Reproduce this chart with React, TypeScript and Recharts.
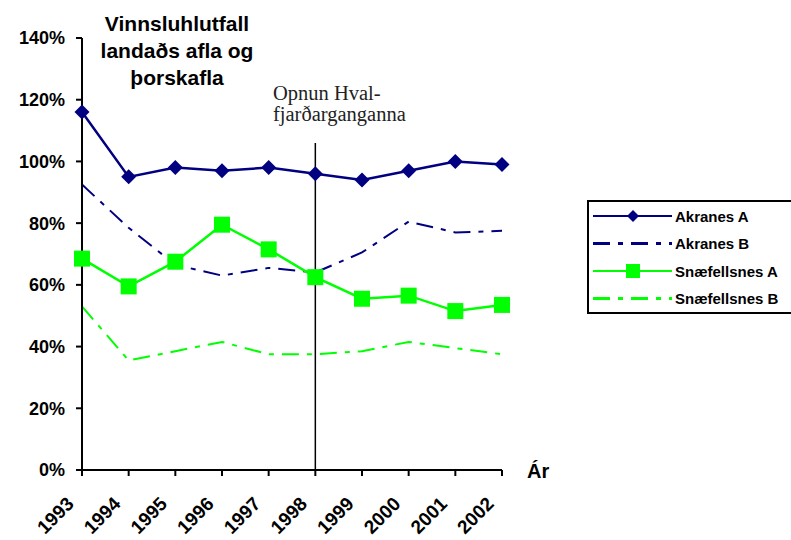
import { LineChart, Line, XAxis, YAxis, ReferenceLine, Legend } from 'recharts';

const years = ['1993', '1994', '1995', '1996', '1997', '1998', '1999', '2000', '2001', '2002'];
const akranesA = [116, 95, 98, 97, 98, 96, 94, 97, 100, 99];
const akranesB = [92.5, 78.5, 66.5, 63, 65.5, 64, 70.5, 80.5, 77, 77.5];
const snaefellsnesA = [68.5, 59.5, 67.5, 79.5, 71.5, 62.5, 55.5, 56.5, 51.5, 53.5];
const snaefellsnesB = [53, 35.5, 38.5, 41.5, 37.5, 37.5, 38.5, 41.5, 39.5, 37.5];
const yTicks = [0, 20, 40, 60, 80, 100, 120, 140];
const titleLines = ['Vinnsluhlutfall', 'landaðs afla og', 'þorskafla'];
const noteLines = ['Opnun Hval-', 'fjarðarganganna'];

const NAVY = '#000080';
const LIME = '#00ff00';
const FONT = '"Liberation Sans", Arial, sans-serif';
const DASH = '17 8 5 8';
const LEGEND_W = 214;

const data = years.map((y, i) => ({
  year: y,
  akA: akranesA[i],
  akB: akranesB[i],
  snA: snaefellsnesA[i],
  snB: snaefellsnesB[i],
}));

const series = [
  { key: 'akA', name: 'Akranes A', color: NAVY, dash: undefined, marker: 'diamond' },
  { key: 'akB', name: 'Akranes B', color: NAVY, dash: DASH, marker: 'none' },
  { key: 'snA', name: 'Snæfellsnes A', color: LIME, dash: undefined, marker: 'square' },
  { key: 'snB', name: 'Snæfellsnes B', color: LIME, dash: DASH, marker: 'none' },
];

const Diamond = ({ cx, cy, r = 7, fill }: any) => (
  <path d={`M${cx},${cy - r}L${cx + r},${cy}L${cx},${cy + r}L${cx - r},${cy}Z`} fill={fill} />
);
const Square = ({ cx, cy, s = 8, fill }: any) => (
  <rect x={cx - s} y={cy - s} width={s * 2} height={s * 2} fill={fill} />
);

// rotated year labels, end of text sits just left of and below the tick
const XTick = ({ x, payload }: any) => {
  const ex = x - 7;
  const ey = 505;
  return (
    <text
      x={ex}
      y={ey}
      transform={`rotate(-45, ${ex}, ${ey})`}
      textAnchor="end"
      fontFamily={FONT}
      fontWeight="bold"
      fontSize={19}
      fill="#000"
    >
      {payload.value}
    </text>
  );
};

const LegendBox = () => (
  <div style={{ border: '2px solid #000', width: LEGEND_W, height: 114, boxSizing: 'border-box', background: '#fff' }}>
    <svg width={210} height={110}>
      {series.map((s, i) => {
        const y = 14 + i * 27.5;
        return (
          <g key={s.key}>
            <line x1={4} x2={83} y1={y} y2={y} stroke={s.color} strokeWidth={s.dash ? 3 : 2} strokeDasharray={s.dash} />
            {s.marker === 'diamond' && <Diamond cx={44} cy={y} r={6} fill={s.color} />}
            {s.marker === 'square' && <Square cx={44} cy={y} s={7} fill={s.color} />}
            <text x={86} y={y + 5.5} fontFamily={FONT} fontWeight="bold" fontSize={15} fill="#000">{s.name}</text>
          </g>
        );
      })}
    </svg>
  </div>
);

const NoteLabel = () => (
  <text fontFamily='"Liberation Serif", "Times New Roman", serif' fontSize={20.5} fill="#222">
    {noteLines.map((l, i) => (
      <tspan key={l} x={273} y={100 + i * 21}>{l}</tspan>
    ))}
  </text>
);

export default function App() {
  return (
    <div style={{ position: 'absolute', left: 0, top: 0, width: 791, height: 540, background: '#fff' }}>
      <LineChart width={791} height={540} data={data} margin={{ top: 38, right: 289 - LEGEND_W, bottom: 0, left: 0 }}>
        <XAxis
          dataKey="year"
          height={70}
          padding={{ left: 0, right: 0 }}
          interval={0}
          tick={<XTick />}
          tickSize={6}
          tickMargin={0}
          axisLine={{ stroke: '#000', strokeWidth: 2 }}
          tickLine={{ stroke: '#000', strokeWidth: 2 }}
        />
        <YAxis
          width={82}
          domain={[0, 140]}
          ticks={yTicks}
          interval={0}
          tickFormatter={(v: number) => `${v}%`}
          tick={{ fill: '#000', fontSize: 18, fontWeight: 'bold', fontFamily: FONT }}
          tickSize={6}
          tickMargin={11}
          axisLine={{ stroke: '#000', strokeWidth: 2 }}
          tickLine={{ stroke: '#000', strokeWidth: 2 }}
        />
        <ReferenceLine
          segment={[{ x: '1998', y: 0 }, { x: '1998', y: 106 }]}
          stroke="#000"
          strokeWidth={1.5}
          label={<NoteLabel />}
        />
        <Legend
          layout="vertical"
          align="right"
          verticalAlign="middle"
          content={<LegendBox />}
          wrapperStyle={{ position: 'absolute', left: 587, top: 200, width: LEGEND_W }}
        />
        {series.map(s => (
          <Line
            key={s.key}
            type="linear"
            dataKey={s.key}
            name={s.name}
            stroke={s.color}
            strokeWidth={s.dash ? 2 : 2.5}
            strokeDasharray={s.dash}
            dot={s.marker === 'diamond'
              ? (p: any) => <Diamond key={p.index} cx={p.cx} cy={p.cy} r={7.5} fill={s.color} />
              : s.marker === 'square'
                ? (p: any) => <Square key={p.index} cx={p.cx} cy={p.cy} s={8} fill={s.color} />
                : false}
            activeDot={false}
            isAnimationActive={false}
          />
        ))}
      </LineChart>
      <svg width={791} height={540} style={{ position: 'absolute', left: 0, top: 0, pointerEvents: 'none' }}>
        <text textAnchor="middle" fontFamily={FONT} fontWeight="bold" fontSize={21} fill="#000">
          {titleLines.map((l, i) => (
            <tspan key={l} x={177} y={31 + i * 27}>{l}</tspan>
          ))}
        </text>
        <text x={527} y={478} fontFamily={FONT} fontWeight="bold" fontSize={20} fill="#000">Ár</text>
      </svg>
    </div>
  );
}
